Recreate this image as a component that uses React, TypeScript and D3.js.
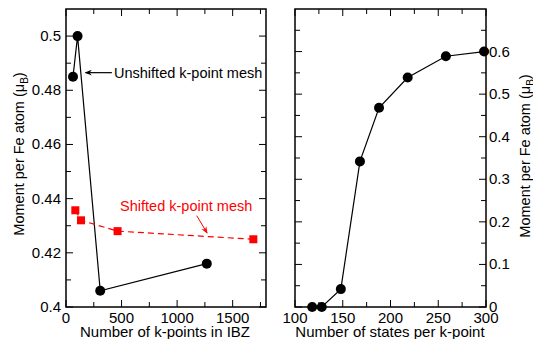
import React, { useEffect, useRef } from 'react';
import * as d3 from 'd3';

// left panel: k-point convergence
const unshiftedK = [63, 104, 308, 1267];
const unshiftedMoment = [0.485, 0.5, 0.406, 0.416];
const shiftedK = [84, 135, 464, 1686];
const shiftedMoment = [0.4357, 0.432, 0.428, 0.425];

// right panel: states per k-point
const statesPerK = [118, 128, 148, 168, 188, 218, 258, 298];
const statesMoment = [0.0, 0.0, 0.042, 0.342, 0.468, 0.539, 0.589, 0.6];

const leftXTicks = [0, 500, 1000, 1500];
const leftYTicks = [0.4, 0.42, 0.44, 0.46, 0.48, 0.5];
const rightXTicks = [100, 150, 200, 250, 300];
const rightYTicks = [0, 0.1, 0.2, 0.3, 0.4, 0.5, 0.6];

const W = 533;
const H = 339;
const FONT = '"Liberation Sans", Arial, sans-serif';

const App: React.FC = () => {
  const svgRef = useRef<SVGSVGElement>(null);

  useEffect(() => {
    if (!svgRef.current) return;
    const svg = d3.select(svgRef.current);
    svg.selectAll('*').remove();

    const defs = svg.append('defs');
    const mk = (id: string, color: string) =>
      defs.append('marker')
        .attr('id', id)
        .attr('viewBox', '0 0 10 10')
        .attr('refX', 9).attr('refY', 5)
        .attr('markerWidth', 7).attr('markerHeight', 7)
        .attr('markerUnits', 'userSpaceOnUse')
        .attr('orient', 'auto')
        .append('path')
        .attr('d', 'M0,1 L10,5 L0,9 L3,5 Z')
        .attr('fill', color);
    mk('arrowBlack', '#000');
    mk('arrowRed', '#ff0000');

    const top = 9, bottom = 307;

    // frame + inward ticks on all four sides
    const drawFrame = (
      g: d3.Selection<SVGGElement, unknown, null, undefined>,
      x: d3.ScaleLinear<number, number>,
      y: d3.ScaleLinear<number, number>,
      xMajor: number[], xMinor: number[], yMajor: number[], yMinor: number[]
    ) => {
      const [x0, x1] = x.range();
      const [y0, y1] = y.range();
      const tick = (v: number[], len: number) => {
        v.forEach(t => {
          const px = x(t);
          g.append('line').attr('x1', px).attr('x2', px).attr('y1', y0).attr('y2', y0 - len).attr('stroke', '#000').attr('stroke-width', 1);
          g.append('line').attr('x1', px).attr('x2', px).attr('y1', y1).attr('y2', y1 + len).attr('stroke', '#000').attr('stroke-width', 1);
        });
      };
      const ytick = (v: number[], len: number) => {
        v.forEach(t => {
          const py = y(t);
          g.append('line').attr('x1', x0).attr('x2', x0 + len).attr('y1', py).attr('y2', py).attr('stroke', '#000').attr('stroke-width', 1);
          g.append('line').attr('x1', x1).attr('x2', x1 - len).attr('y1', py).attr('y2', py).attr('stroke', '#000').attr('stroke-width', 1);
        });
      };
      tick(xMajor, 7); tick(xMinor, 5);
      ytick(yMajor, 7); ytick(yMinor, 5);
      g.append('rect')
        .attr('x', x0).attr('y', y1)
        .attr('width', x1 - x0).attr('height', y0 - y1)
        .attr('fill', 'none').attr('stroke', '#000').attr('stroke-width', 1.5);
    };

    const yTitle = (g: d3.Selection<SVGGElement, unknown, null, undefined>, cx: number, cy: number) => {
      const t = g.append('text')
        .attr('transform', `translate(${cx},${cy}) rotate(-90)`)
        .attr('text-anchor', 'middle').attr('font-size', 14.5).attr('font-family', FONT);
      t.append('tspan').text('Moment per Fe atom (μ');
      t.append('tspan').attr('font-size', 10).attr('dy', 4).text('B');
      t.append('tspan').attr('dy', -4).text(')');
    };

    // ---------- Left panel ----------
    const xL = d3.scaleLinear().domain([0, 1800]).range([66, 266]);
    const yL = d3.scaleLinear().domain([0.4, 0.51]).range([bottom, top]);
    const gL = svg.append('g');

    drawFrame(gL, xL, yL,
      leftXTicks, [250, 750, 1250, 1750],
      leftYTicks, [0.41, 0.43, 0.45, 0.47, 0.49]);

    gL.selectAll('text.xt').data(leftXTicks).enter().append('text')
      .attr('x', d => xL(d)).attr('y', 323)
      .attr('text-anchor', 'middle').attr('font-size', 15).attr('font-family', FONT)
      .text(d => d3.format('d')(d));
    gL.selectAll('text.yt').data(leftYTicks).enter().append('text')
      .attr('x', 61).attr('y', d => yL(d) + 5)
      .attr('text-anchor', 'end').attr('font-size', 15).attr('font-family', FONT)
      .text(d => String(+d.toFixed(2)));

    gL.append('text')
      .attr('x', 165).attr('y', 337)
      .attr('text-anchor', 'middle').attr('font-size', 15).attr('font-family', FONT)
      .text('Number of k-points in IBZ');
    yTitle(gL, 23.5, 154);

    const lineL = d3.line<number>().x((d, i) => xL(unshiftedK[i])).y(d => yL(d));
    gL.append('path').attr('d', lineL(unshiftedMoment))
      .attr('fill', 'none').attr('stroke', '#000').attr('stroke-width', 1.2);
    gL.selectAll('circle').data(unshiftedMoment).enter().append('circle')
      .attr('cx', (d, i) => xL(unshiftedK[i])).attr('cy', d => yL(d))
      .attr('r', 5).attr('fill', '#000');

    const lineS = d3.line<number>().x((d, i) => xL(shiftedK[i])).y(d => yL(d));
    gL.append('path').attr('d', lineS(shiftedMoment))
      .attr('fill', 'none').attr('stroke', '#ff0000').attr('stroke-width', 1.2)
      .attr('stroke-dasharray', '6,4');
    gL.selectAll('rect.sq').data(shiftedMoment).enter().append('rect')
      .attr('x', (d, i) => xL(shiftedK[i]) - 4).attr('y', d => yL(d) - 4)
      .attr('width', 8).attr('height', 8).attr('fill', '#ff0000');

    // annotations
    gL.append('line')
      .attr('x1', xL(413)).attr('y1', yL(0.4865))
      .attr('x2', xL(175)).attr('y2', yL(0.4865))
      .attr('stroke', '#000').attr('stroke-width', 1.2)
      .attr('marker-end', 'url(#arrowBlack)');
    gL.append('text')
      .attr('x', xL(432)).attr('y', yL(0.4865) + 5)
      .attr('font-size', 14.5).attr('font-family', FONT)
      .text('Unshifted k-point mesh');

    gL.append('text')
      .attr('x', xL(487)).attr('y', yL(0.4371) + 5)
      .attr('font-size', 14.5).attr('font-family', FONT).attr('fill', '#ff0000')
      .text('Shifted k-point mesh');
    gL.append('line')
      .attr('x1', xL(1177)).attr('y1', yL(0.4337))
      .attr('x2', xL(1270)).attr('y2', yL(0.4273))
      .attr('stroke', '#ff0000').attr('stroke-width', 1)
      .attr('marker-end', 'url(#arrowRed)');

    // ---------- Right panel ----------
    const xR = d3.scaleLinear().domain([100, 300]).range([295, 486]);
    const yR = d3.scaleLinear().domain([0, 0.7]).range([bottom, top]);
    const gR = svg.append('g');

    drawFrame(gR, xR, yR,
      rightXTicks, [125, 175, 225, 275],
      rightYTicks, [0.05, 0.15, 0.25, 0.35, 0.45, 0.55, 0.65]);

    gR.selectAll('text.xt').data(rightXTicks).enter().append('text')
      .attr('x', d => xR(d)).attr('y', 323)
      .attr('text-anchor', 'middle').attr('font-size', 15).attr('font-family', FONT)
      .text(d => String(d));
    gR.selectAll('text.yt').data(rightYTicks).enter().append('text')
      .attr('x', 489).attr('y', d => yR(d) + 5)
      .attr('text-anchor', 'start').attr('font-size', 15).attr('font-family', FONT)
      .text(d => String(+d.toFixed(1)));

    gR.append('text')
      .attr('x', 390).attr('y', 337)
      .attr('text-anchor', 'middle').attr('font-size', 15).attr('font-family', FONT)
      .text('Number of states per k-point');
    yTitle(gR, 530, 156);

    const lineR = d3.line<number>().x((d, i) => xR(statesPerK[i])).y(d => yR(d));
    gR.append('path').attr('d', lineR(statesMoment))
      .attr('fill', 'none').attr('stroke', '#000').attr('stroke-width', 1.2);
    gR.selectAll('circle').data(statesMoment).enter().append('circle')
      .attr('cx', (d, i) => xR(statesPerK[i])).attr('cy', d => yR(d))
      .attr('r', 5).attr('fill', '#000');
  }, []);

  return (
    <div style={{ position: 'fixed', left: 0, top: 0, width: W, height: H, background: '#fff' }}>
      <svg ref={svgRef} width={W} height={H} style={{ display: 'block' }} />
    </div>
  );
};

export default App;
